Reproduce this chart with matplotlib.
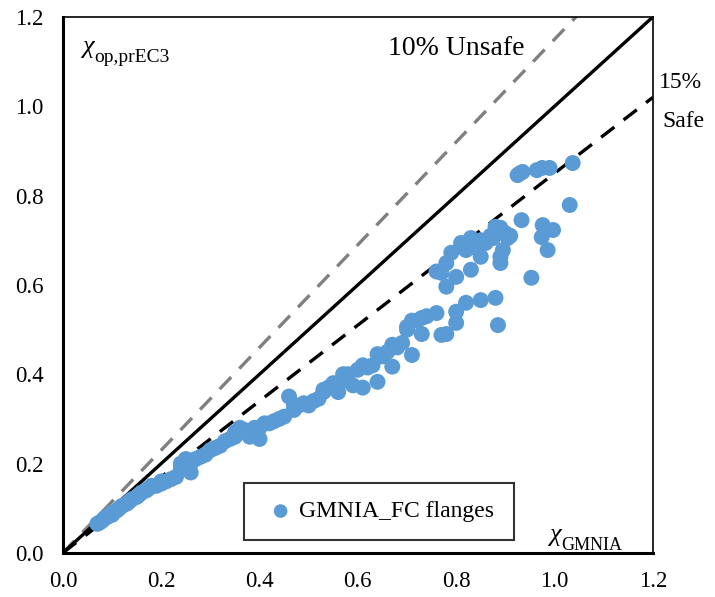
import numpy as np
import matplotlib.pyplot as plt

plt.rcParams['font.family'] = ['Liberation Serif', 'DejaVu Serif']

# lower band
x_low = [0.07, 0.075, 0.08, 0.085, 0.09, 0.095, 0.10, 0.10, 0.11, 0.115, 0.12, 0.13, 0.135, 0.14,
         0.15, 0.155, 0.16, 0.17, 0.175, 0.18, 0.19, 0.20, 0.20, 0.21, 0.22, 0.23, 0.24, 0.24, 0.25,
         0.25, 0.26, 0.26, 0.27, 0.28, 0.29, 0.30, 0.31, 0.32, 0.33, 0.34, 0.35, 0.35, 0.36, 0.36,
         0.37, 0.38, 0.39, 0.40, 0.40, 0.41, 0.42, 0.43, 0.44, 0.45, 0.46, 0.47, 0.47, 0.48, 0.49,
         0.50, 0.51, 0.52, 0.53, 0.53, 0.54, 0.55, 0.56, 0.57, 0.57, 0.58, 0.59, 0.60, 0.61, 0.61,
         0.62, 0.63, 0.64, 0.64, 0.65, 0.66, 0.67, 0.67, 0.68, 0.69, 0.70, 0.70, 0.71, 0.71, 0.72,
         0.73, 0.73, 0.74, 0.76, 0.77, 0.78, 0.80, 0.80, 0.82, 0.85, 0.88, 0.885]
y_low = [0.065, 0.068, 0.072, 0.078, 0.08, 0.085, 0.09, 0.085, 0.095, 0.10, 0.105, 0.11, 0.115, 0.12,
         0.125, 0.13, 0.135, 0.14, 0.145, 0.15, 0.15, 0.155, 0.16, 0.16, 0.165, 0.17, 0.19, 0.20, 0.21,
         0.19, 0.20, 0.18, 0.21, 0.215, 0.22, 0.23, 0.235, 0.24, 0.25, 0.255, 0.27, 0.26, 0.27, 0.28,
         0.275, 0.26, 0.28, 0.28, 0.255, 0.29, 0.29, 0.295, 0.30, 0.305, 0.35, 0.33, 0.32, 0.33, 0.335,
         0.33, 0.34, 0.345, 0.365, 0.36, 0.37, 0.38, 0.36, 0.40, 0.385, 0.40, 0.375, 0.41, 0.42, 0.37,
         0.415, 0.42, 0.445, 0.383, 0.44, 0.45, 0.466, 0.417, 0.46, 0.47, 0.50, 0.506, 0.52, 0.443, 0.52,
         0.526, 0.49, 0.53, 0.537, 0.488, 0.49, 0.515, 0.54, 0.56, 0.566, 0.571, 0.51]

# upper branch
x_up = [0.76, 0.77, 0.78, 0.78, 0.79, 0.80, 0.81, 0.82, 0.83, 0.83, 0.84, 0.85, 0.85, 0.86, 0.87,
        0.875, 0.88, 0.89, 0.89, 0.89, 0.895, 0.90, 0.905, 0.91, 0.925, 0.93, 0.935, 0.964, 0.975,
        0.99, 1.037]
y_up = [0.63, 0.627, 0.596, 0.649, 0.672, 0.618, 0.694, 0.678, 0.634, 0.705, 0.683, 0.663, 0.70,
        0.694, 0.71, 0.705, 0.73, 0.649, 0.663, 0.728, 0.678, 0.716, 0.705, 0.71, 0.846, 0.85, 0.853,
        0.857, 0.862, 0.862, 0.873]

# scattered points at the right
x_right = [0.933, 0.953, 0.974, 0.976, 0.986, 0.997, 1.031]
y_right = [0.745, 0.616, 0.707, 0.734, 0.678, 0.723, 0.779]

x_all = x_low + x_up + x_right
y_all = y_low + y_up + y_right

fig = plt.figure(figsize=(7.15, 5.97), dpi=100)
ax = fig.add_axes([0.088, 0.074, 0.825, 0.8975])

ref = np.array([0.0, 1.2])
ax.plot(ref, 1.15 * ref, color='#808080', lw=2.4, ls=(0, (5, 3.5)), zorder=2)
ax.plot(ref, ref, color='black', lw=2.4, zorder=2)
ax.plot(ref, 0.85 * ref, color='black', lw=2.4, ls=(0, (5, 3.5)), zorder=2)

ax.scatter(x_all, y_all, s=132, color='#5B9BD5', edgecolors='none', zorder=3,
           label='GMNIA_FC flanges')

ax.set_xlim(0, 1.2)
ax.set_ylim(0, 1.2)
ticks = np.arange(0, 1.21, 0.2)
ax.set_xticks(ticks)
ax.set_yticks(ticks)
ax.set_xticklabels([f'{t:.1f}' for t in ticks])
ax.set_yticklabels([f'{t:.1f}' for t in ticks])
ax.tick_params(length=0, labelsize=16.5)
ax.tick_params(axis='x', pad=13)
ax.tick_params(axis='y', pad=14)

for side in ['left', 'bottom']:
    ax.spines[side].set_linewidth(2.2)
for side in ['top', 'right']:
    ax.spines[side].set_linewidth(1.2)

# axis captions: italic chi with a plain subscript
chi1 = ax.text(0.04, 1.12, '\u03c7', fontsize=19, style='italic', ha='left', va='baseline')
ax.annotate('op,prEC3', xy=(1, 0), xycoords=chi1, xytext=(0, -3), textcoords='offset points',
            fontsize=14, ha='left', va='baseline')
chi2 = ax.text(0.99, 0.027, '\u03c7', fontsize=19, style='italic', ha='left', va='baseline')
ax.annotate('GMNIA', xy=(1, 0), xycoords=chi2, xytext=(0, -3), textcoords='offset points',
            fontsize=13, ha='left', va='baseline')

ax.text(0.80, 1.13, '10% Unsafe', fontsize=20, ha='center', va='center')
ax.text(1.257, 1.053, '15%', fontsize=17, ha='center', va='center', clip_on=False)
ax.text(1.262, 0.966, 'Safe', fontsize=17, ha='center', va='center', clip_on=False)

leg = ax.legend(loc='lower left', bbox_to_anchor=(0.307, 0.024, 0.458, 0.104), mode='expand',
                borderaxespad=0.0, fontsize=17, frameon=True, fancybox=False,
                handletextpad=0.0, borderpad=0.75, markerscale=0.85, handlelength=1.6)
leg.get_frame().set_edgecolor('black')
leg.get_frame().set_linewidth(1.5)

fig.savefig('out.png', dpi=100)
